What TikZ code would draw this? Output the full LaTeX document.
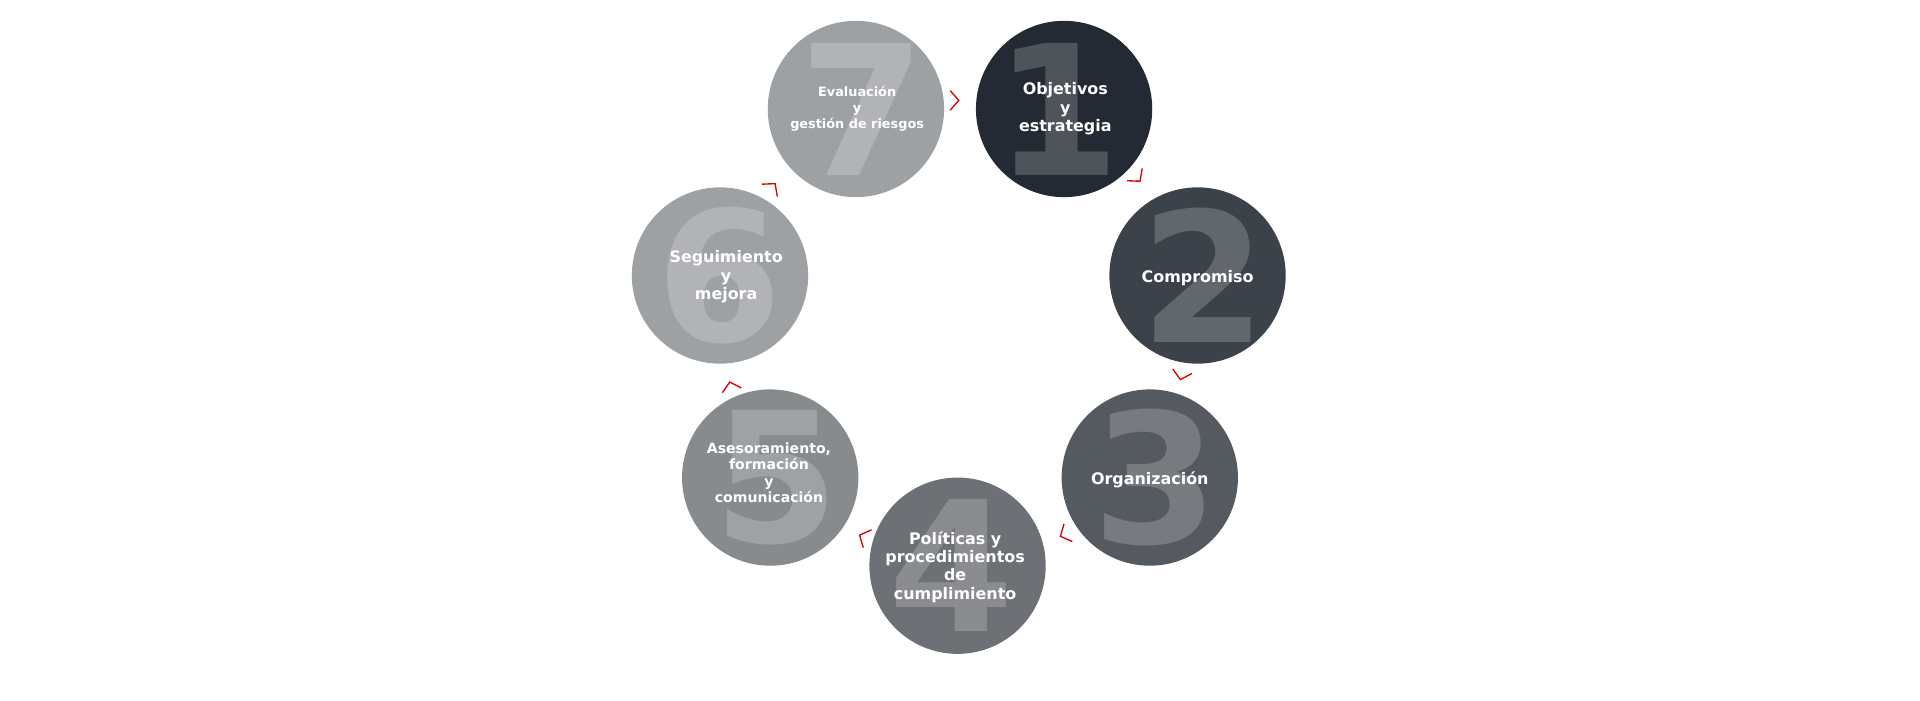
\documentclass[tikz,border=0pt]{standalone}
\usepackage{fontspec}
\setmainfont{DejaVu Sans}
\begin{document}
\begin{tikzpicture}[x=1pt,y=-1pt,
 circ/.style={circle,minimum size=144pt,inner sep=0pt},
 digit/.style={font=\fontsize{148}{148}\selectfont\bfseries,text opacity=0.2,text=white},
 lbl/.style={font=\fontsize{13}{15}\selectfont\bfseries,text=white,align=center},
 chev/.style={draw=red!85!black,line width=1.1pt}]
\useasboundingbox (0,0) rectangle (1568,571.7);
\def\C#1#2#3#4#5{\node[circ,fill=#4] (c#1) at (#2,#3) {}; \node[digit] (d#1) at (#2+#5,#3) {#1};}
\definecolor{k1}{HTML}{232A33}\definecolor{k2}{HTML}{3B4249}\definecolor{k3}{HTML}{555A60}
\definecolor{k4}{HTML}{6D7075}\definecolor{k5}{HTML}{888B8E}\definecolor{k6}{HTML}{9EA1A4}
\C{1}{869}{89}{k1}{-5}
\C{2}{978}{225}{k2}{5}
\C{3}{939}{390}{k3}{5}
\C{4}{782}{462}{k4}{-5}
\C{5}{629}{390}{k5}{5}
\C{6}{588}{225}{k6}{0}
\C{7}{699}{89}{k6}{5}
\node[lbl] (t1) at (870,89) {Objetivos\\y\\estrategia};
\node[lbl] (t2) at (978,227) {Compromiso};
\node[lbl] (t3) at (939,392) {Organización};
\node[lbl] (t4) at (780,463) {Políticas y\\procedimientos\\de\\cumplimiento};
\node[lbl,font=\fontsize{11.5}{13.5}\selectfont\bfseries] (t5) at (628,386) {Asesoramiento,\\formación \\y\\comunicación};
\node[lbl] (t6) at (593,226) {Seguimiento\\y\\mejora};
\node[lbl,font=\fontsize{10.5}{13}\selectfont\bfseries] (t7) at (700,89) {Evaluación\\y\\gestión de riesgos};
\foreach \x/\y/\a in {783/82/0, 931/148/-51, 964/310/-103, 866/438/-155, 702/437/155, 596/312/104, 633/150/51}
  \draw[chev,rotate around={\a:(\x,\y)}] (\x-7,\y-8) -- (\x,\y) -- (\x-7,\y+8);
\end{tikzpicture}
\end{document}
